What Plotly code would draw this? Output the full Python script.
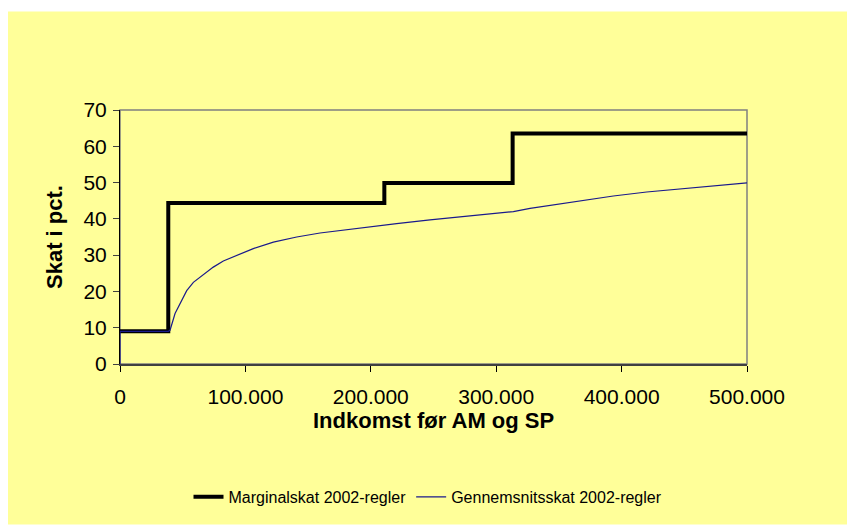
import plotly.graph_objects as go

# Marginal tax rate (step function), income breakpoints in DKK
marg_income = [0, 38500, 210800, 313100, 500000]
marg_rate = [9.0, 44.4, 49.9, 63.5, 63.5]

# Average tax rate by income
avg_income = [0, 0, 38500, 39900, 43900, 47800, 53200, 58500, 66500, 74400,
              82400, 93000, 106300, 122300, 140900, 159500, 175500, 194000,
              220600, 247200, 273800, 300400, 313700, 327000, 353600, 374800,
              393400, 420000, 446600, 473200, 500000]
avg_rate = [0.0, 9.0, 9.0, 9.3, 13.9, 16.6, 20.2, 22.5, 24.7, 26.7,
            28.4, 30.0, 31.8, 33.6, 35.0, 36.1, 36.8, 37.6,
            38.7, 39.7, 40.7, 41.6, 42.0, 42.9, 44.3, 45.3,
            46.3, 47.4, 48.3, 49.1, 49.9]

x_ticks = [0, 100000, 200000, 300000, 400000, 500000]
y_ticks = [0, 10, 20, 30, 40, 50, 60, 70]

series_names = ["Marginalskat 2002-regler", "Gennemsnitsskat 2002-regler"]
x_title = "Indkomst før AM og SP"
y_title = "Skat i pct."

BG = "#FFFF99"
FONT = "Arial, Liberation Sans, sans-serif"
W, H = 847, 526
L, R, T, B = 120, 100, 110, 158
pw, ph = W - L - R, H - T - B

def px_to_paper_x(px):
    return (px - L) / pw

def px_to_paper_y(py):
    return (H - B - py) / ph

fig = go.Figure()

fig.add_trace(go.Scatter(
    x=marg_income, y=marg_rate, mode="lines", name=series_names[0],
    line=dict(color="black", width=4, shape="hv"),
))
fig.add_trace(go.Scatter(
    x=avg_income, y=avg_rate, mode="lines", name=series_names[1],
    line=dict(color="#1A1A8C", width=1.2),
))

axis_font = dict(family=FONT, size=21, color="black")

fig.update_layout(
    width=W, height=H,
    margin=dict(l=L, r=R, t=T, b=B),
    paper_bgcolor="white",
    plot_bgcolor=BG,
    separators=",.",
    showlegend=True,
    legend=dict(
        orientation="h",
        x=px_to_paper_x(428), xanchor="center",
        y=px_to_paper_y(503), yanchor="middle",
        font=dict(family=FONT, size=16, color="black"),
        bgcolor="rgba(0,0,0,0)",
        itemwidth=30,
    ),
    xaxis=dict(
        range=[0, 500000], tickvals=x_ticks, tickformat=",d",
        showgrid=False, zeroline=False,
        showline=True, linecolor="#404040", linewidth=2,
        ticks="outside", ticklen=6, tickcolor="black", tickwidth=1,
        tickfont=axis_font, ticklabelstandoff=7,
        layer="below traces",
    ),
    yaxis=dict(
        range=[0, 70], tickvals=y_ticks,
        showgrid=False, zeroline=False,
        showline=True, linecolor="black", linewidth=1,
        ticks="outside", ticklen=6, tickcolor="#404040", tickwidth=1,
        tickfont=axis_font, ticklabelstandoff=2,
        layer="below traces",
    ),
    shapes=[
        # chart area background with white edge at top/left
        dict(type="rect", xref="paper", yref="paper", layer="below",
             x0=px_to_paper_x(8), x1=px_to_paper_x(W + 5),
             y0=px_to_paper_y(H + 5), y1=px_to_paper_y(10),
             fillcolor=BG, line=dict(width=0)),
        # plot area border
        dict(type="rect", xref="paper", yref="paper", layer="below",
             x0=0, x1=1, y0=0, y1=1,
             fillcolor="rgba(0,0,0,0)", line=dict(color="#808080", width=1.5)),
    ],
    annotations=[
        dict(text=f"<b>{x_title}</b>", xref="paper", yref="paper",
             x=0.5, y=px_to_paper_y(425), xanchor="center", yanchor="middle",
             showarrow=False,
             font=dict(family=FONT, size=22, color="black")),
        dict(text=f"<b>{y_title}</b>", xref="paper", yref="paper",
             x=px_to_paper_x(54), y=0.5, xanchor="center", yanchor="middle",
             textangle=-90, showarrow=False,
             font=dict(family=FONT, size=22, color="black")),
    ],
)

fig.write_html("out.html")
